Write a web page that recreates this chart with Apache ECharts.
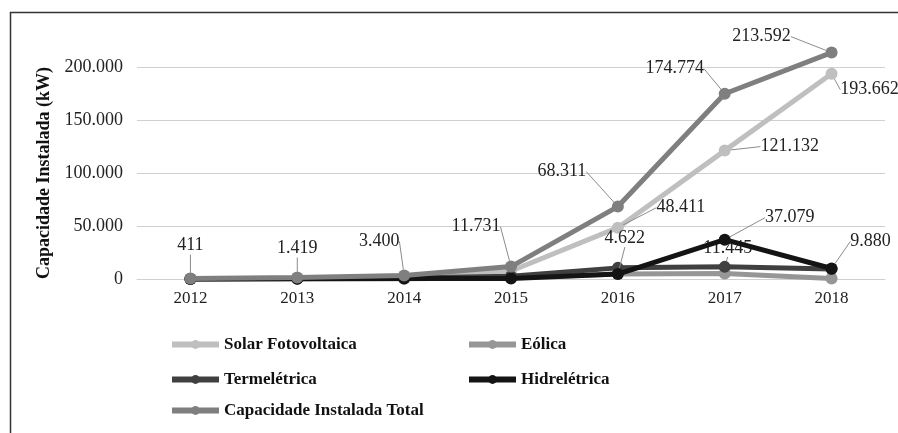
<!DOCTYPE html>
<html>
<head>
<meta charset="utf-8">
<script src="https://cdn.jsdelivr.net/npm/echarts@6/dist/echarts.min.js"></script>
<style>
html,body{margin:0;padding:0;background:#fff;}
#chart{width:898px;height:433px;}
</style>
</head>
<body>
<div id="chart"></div>
<script>
// ---- data ----
const years = ['2012','2013','2014','2015','2016','2017','2018'];
const solar = [100, 600, 1800, 7500, 48411, 121132, 193662];
const eolica = [61, 119, 300, 1231, 4778, 5118, 550];
const termeletrica = [200, 500, 900, 2500, 10500, 11445, 9500];
const hidreletrica = [50, 200, 400, 500, 4622, 37079, 9880];
const total = [411, 1419, 3400, 11731, 68311, 174774, 213592];
const seriesNames = ['Solar Fotovoltaica','Eólica','Termelétrica','Hidrelétrica','Capacidade Instalada Total'];
const yTicks = [0, 50000, 100000, 150000, 200000];

// ---- styling (not data) ----
const colors = ['#bfbfbf','#969696','#404040','#141414','#7f7f7f'];
// which points carry a data label, with the label offset [dx, dy]
const labelOffsets = [
  {4:[63,0], 5:[65,16], 6:[38,36]},
  {},
  {5:[3,1]},
  {4:[7,-16], 5:[65,-2], 6:[39,-7]},
  {0:[0,-13], 1:[0,-9], 2:[-25,-14], 3:[-35,-20], 4:[-56,-15], 5:[-50,-5], 6:[-70,4]}
];

function fmt(v){ return String(v).replace(/\B(?=(\d{3})+(?!\d))/g, '.'); }

const allData = [solar, eolica, termeletrica, hidreletrica, total];
const series = allData.map((arr, si) => ({
  name: seriesNames[si],
  type: 'line',
  clip: false,
  z: 2 + si,
  symbol: 'circle',
  symbolSize: 12,
  lineStyle: {width: 5, color: colors[si]},
  itemStyle: {color: colors[si]},
  labelLine: {show: true, lineStyle: {color: '#8c8c8c', width: 1}},
  labelLayout: function(p){
    const o = labelOffsets[si][p.dataIndex];
    return o ? {dx: o[0], dy: o[1]} : {};
  },
  data: arr.map((v, i) => ({
    value: v,
    label: {
      show: labelOffsets[si][i] !== undefined,
      position: 'top',
      distance: 5,
      formatter: fmt(v),
      fontFamily: 'Liberation Serif',
      fontSize: 18,
      color: '#222'
    }
  }))
}));

const legendPos = [
  [164, 331], [461, 331], [164, 366], [461, 366], [164, 397]
];
const legends = seriesNames.map((n, i) => ({
  data: [n],
  left: legendPos[i][0],
  top: legendPos[i][1],
  itemWidth: 47,
  itemHeight: 11,
  itemGap: 8,
  selectedMode: false,
  lineStyle: {width: 6},
  textStyle: {fontFamily: 'Liberation Serif', fontWeight: 'bold', fontSize: 17, color: '#111'}
}));

const chart = echarts.init(document.getElementById('chart'));
chart.setOption({
  animation: false,
  backgroundColor: '#fff',
  graphic: [{
    type: 'rect', left: 8, top: 10, shape: {width: 900, height: 440},
    style: {fill: 'none', stroke: '#333', lineWidth: 1.5}, silent: true
  }],
  grid: {left: 137, right: 13, top: 67, bottom: 154},
  legend: legends,
  xAxis: {
    type: 'category',
    data: years,
    boundaryGap: true,
    axisLine: {show: true, lineStyle: {color: '#d0d0d0', width: 1}},
    axisTick: {show: false},
    axisLabel: {fontFamily: 'Liberation Serif', fontSize: 17, color: '#222', margin: 11}
  },
  yAxis: {
    type: 'value',
    min: yTicks[0],
    max: yTicks[yTicks.length - 1],
    interval: yTicks[1] - yTicks[0],
    name: 'Capacidade Instalada (kW)',
    nameLocation: 'middle',
    nameGap: 84,
    nameTextStyle: {fontFamily: 'Liberation Serif', fontWeight: 'bold', fontSize: 18, color: '#111'},
    axisLine: {show: false},
    axisTick: {show: false},
    splitLine: {lineStyle: {color: '#d0d0d0', width: 1}},
    axisLabel: {fontFamily: 'Liberation Serif', fontSize: 18, color: '#222', margin: 14, formatter: fmt}
  },
  series: series
});
</script>
</body>
</html>
